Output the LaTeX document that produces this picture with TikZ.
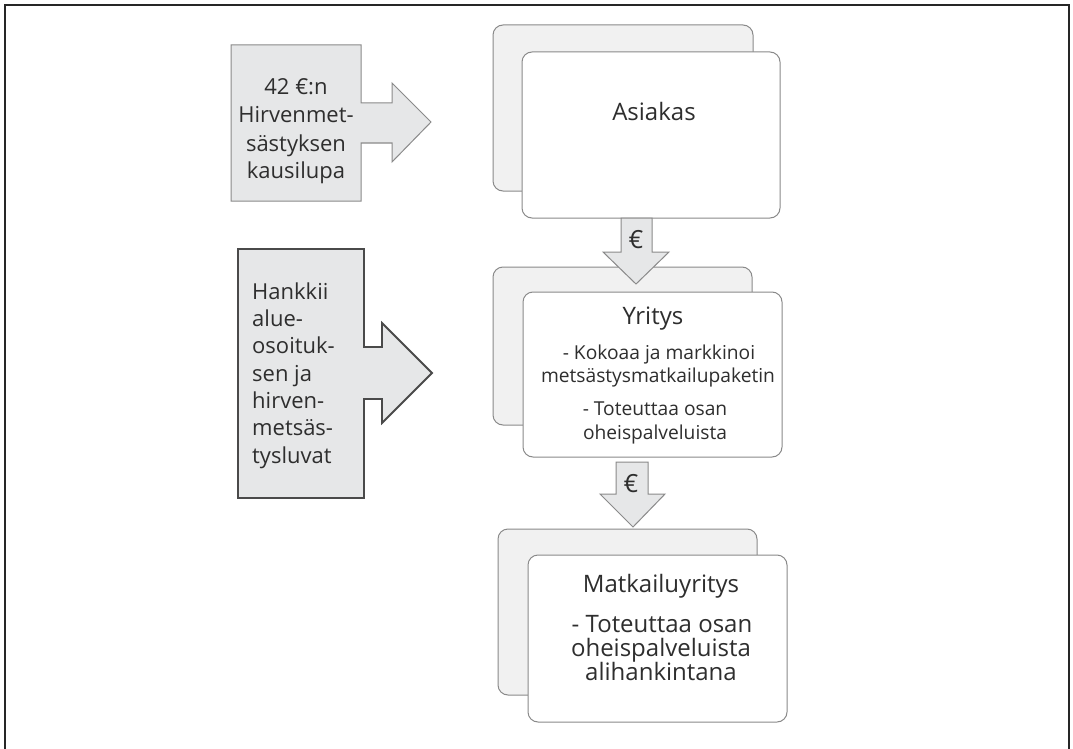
\documentclass[tikz,border=0pt]{standalone}
\usepackage{fontspec}
\setmainfont{Open Sans}
\definecolor{txt}{HTML}{2E2E2E}
\definecolor{boxline}{HTML}{8A8A8A}
\definecolor{backfill}{HTML}{F1F1F1}
\definecolor{calfill}{HTML}{E6E7E8}
\definecolor{darkline}{HTML}{4A4A4A}
\begin{document}
\begin{tikzpicture}[x=1pt,y=-1pt,
  backbox/.style={draw=boxline, line width=1pt, fill=backfill, rounded corners=10pt, inner sep=0pt},
  frontbox/.style={draw=boxline, line width=1pt, fill=white, rounded corners=10pt, inner sep=0pt},
  callout/.style={draw=boxline, line width=1pt, fill=calfill},
  calloutdark/.style={draw=darkline, line width=1.8pt, fill=calfill},
  euroarrow/.style={draw=boxline, line width=1pt, fill=calfill},
  ln/.style={anchor=base, inner sep=0pt, text=txt},
  lnl/.style={anchor=base west, inner sep=0pt, text=txt},
  fbig/.style={font=\fontsize{24}{24}\selectfont},
  fmid/.style={font=\fontsize{22}{24}\selectfont},
  feuro/.style={font=\fontsize{25}{25}\selectfont},
  fsmall/.style={font=\fontsize{19.2}{24}\selectfont}
]
\useasboundingbox (0,0) rectangle (1073,749);
\fill[white] (0,0) rectangle (1073,749);
% outer frame
\draw[line width=1.5pt, black!85] (5,749) -- (5,5) -- (1069,5) -- (1069,749);

% --- boxes ---
\node[backbox, minimum width=260pt, minimum height=166pt] (asiB) at (623,108) {};
\node[frontbox, minimum width=258pt, minimum height=166pt] (asiF) at (651,135) {};
\node[backbox, minimum width=259pt, minimum height=158pt] (yriB) at (622.5,346) {};
\node[frontbox, minimum width=259pt, minimum height=165pt] (yriF) at (652.5,374.5) {};
\node[backbox, minimum width=259pt, minimum height=166pt] (matB) at (627.5,612) {};
\node[frontbox, minimum width=259pt, minimum height=167pt] (matF) at (657.5,638.5) {};

% --- box texts ---
\node[ln, fbig] (tA) at (654,121) {Asiakas};

\node[ln, fbig] (tY) at (653,324) {Yritys};
\node[ln, fsmall] (tY1) at (659,359) {- Kokoaa ja markkinoi};
\node[ln, fsmall] (tY2) at (658,382) {metsästysmatkailupaketin};
\node[ln, fsmall] (tY3) at (655,415) {- Toteuttaa osan};
\node[ln, fsmall] (tY4) at (655,439) {oheispalveluista};

\node[ln, fbig] (tM) at (661,592) {Matkailuyritys};
\node[ln, fbig] (tM1) at (662,632) {- Toteuttaa osan};
\node[ln, fbig] (tM2) at (661,656) {oheispalveluista};
\node[ln, fbig] (tM3) at (661,680) {alihankintana};

% --- euro arrows between boxes ---
\draw[euroarrow] (621,218) -- (652,218) -- (652,252) -- (669,252) -- (636,284)
  -- (603,252) -- (621,252) -- cycle;
\node[ln, feuro] (e1) at (636,248) {€};
\draw[euroarrow] (616,462) -- (648,462) -- (648,494) -- (665,494) -- (633,527)
  -- (600,494) -- (616,494) -- cycle;
\node[ln, feuro] (e2) at (631,492) {€};

% --- left callout 1 ---
\draw[callout] (231,45) -- (361,45) -- (361,103) -- (392,103) -- (392,83) -- (431,122)
  -- (392,162) -- (392,143) -- (361,143) -- (361,201) -- (231,201) -- cycle;
\node[ln, fmid] (c1a) at (296,95) {42 €:n};
\node[ln, fmid] (c1b) at (296,123) {Hirvenmet-};
\node[ln, fmid] (c1c) at (296,151) {sästyksen};
\node[ln, fmid] (c1d) at (296,178.5) {kausilupa};

% --- left callout 2 ---
\draw[calloutdark] (238,249) -- (364,249) -- (364,347) -- (382,347) -- (382,323) -- (432,373)
  -- (382,423) -- (382,399) -- (364,399) -- (364,498) -- (238,498) -- cycle;
\node[lnl, fmid] (c2a) at (252,299) {Hankkii};
\node[lnl, fmid] (c2b) at (252,326.3) {alue-};
\node[lnl, fmid] (c2c) at (252,353.6) {osoituk-};
\node[lnl, fmid] (c2d) at (252,381) {sen ja};
\node[lnl, fmid] (c2e) at (252,408.3) {hirven-};
\node[lnl, fmid] (c2f) at (252,435.6) {metsäs-};
\node[lnl, fmid] (c2g) at (252,463) {tysluvat};
\end{tikzpicture}
\end{document}
